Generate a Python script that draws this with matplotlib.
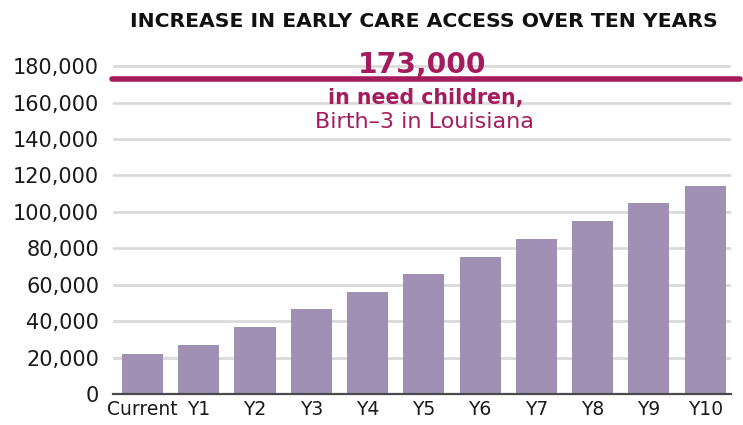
import matplotlib
matplotlib.use("Agg")
import matplotlib.pyplot as plt
from matplotlib.ticker import FuncFormatter

categories = ["Current", "Y1", "Y2", "Y3", "Y4", "Y5", "Y6", "Y7", "Y8", "Y9", "Y10"]
values = [22000, 27200, 37000, 46800, 56200, 65900, 75500, 85100, 95000, 104900, 114000]
need_value = 173000
need_label = "173,000"
need_line1 = "in need children,"
need_line2 = "Birth\u20133 in Louisiana"
title = "INCREASE IN EARLY CARE ACCESS OVER TEN YEARS"
yticks = [0, 20000, 40000, 60000, 80000, 100000, 120000, 140000, 160000, 180000]

bar_color = "#9f90b4"
magenta = "#a51c5e"

fig = plt.figure(figsize=(7.43, 4.25), dpi=100)
ax = fig.add_axes([0.152, 0.0722, 0.832, 0.7896])

x = list(range(len(categories)))
ax.bar(x, values, width=0.73, color=bar_color, zorder=3)
ax.set_xlim(-0.525, 10.46)
ax.set_ylim(0, 184000)
ax.set_yticks(yticks)
ax.yaxis.set_major_formatter(FuncFormatter(lambda v, p: f"{int(v):,}"))
ax.set_xticks(x)
ax.set_xticklabels(categories)
ax.grid(axis="y", color="#dadada", linewidth=2, zorder=0)
ax.set_axisbelow(True)
for s in ["top", "right", "left"]:
    ax.spines[s].set_visible(False)
ax.spines["bottom"].set_color("#4a4a4a")
ax.spines["bottom"].set_linewidth(1.6)
ax.spines["bottom"].set_zorder(4)
ax.tick_params(axis="both", length=0)
ax.tick_params(axis="y", labelsize=15, pad=10, labelcolor="#1a1a1a")
ax.tick_params(axis="x", labelsize=13.5, pad=4, labelcolor="#1a1a1a")
for lab in ax.get_yticklabels() + ax.get_xticklabels():
    lab.set_family("DejaVu Sans")

ax.plot([-0.55, 10.62], [need_value, need_value], color=magenta, linewidth=4.0,
        solid_capstyle="round", clip_on=False, zorder=5)

W, H = 743, 425
def fy(py):
    return 1 - py / H

fig.text(424 / W, fy(27), title, ha="center", va="baseline", fontsize=14.7,
         fontweight="bold", family="DejaVu Sans", color="#111111")
fig.text(422 / W, fy(73), need_label, ha="center", va="baseline", fontsize=20.3,
         fontweight="bold", family="DejaVu Sans", color=magenta)
fig.text(425.5 / W, fy(104), need_line1, ha="center", va="baseline", fontsize=14.8,
         fontweight="bold", family="DejaVu Sans", color=magenta)
fig.text(424.5 / W, fy(127.5), need_line2, ha="center", va="baseline", fontsize=16,
         family="DejaVu Sans", color=magenta)

fig.savefig("out.png", dpi=100)
